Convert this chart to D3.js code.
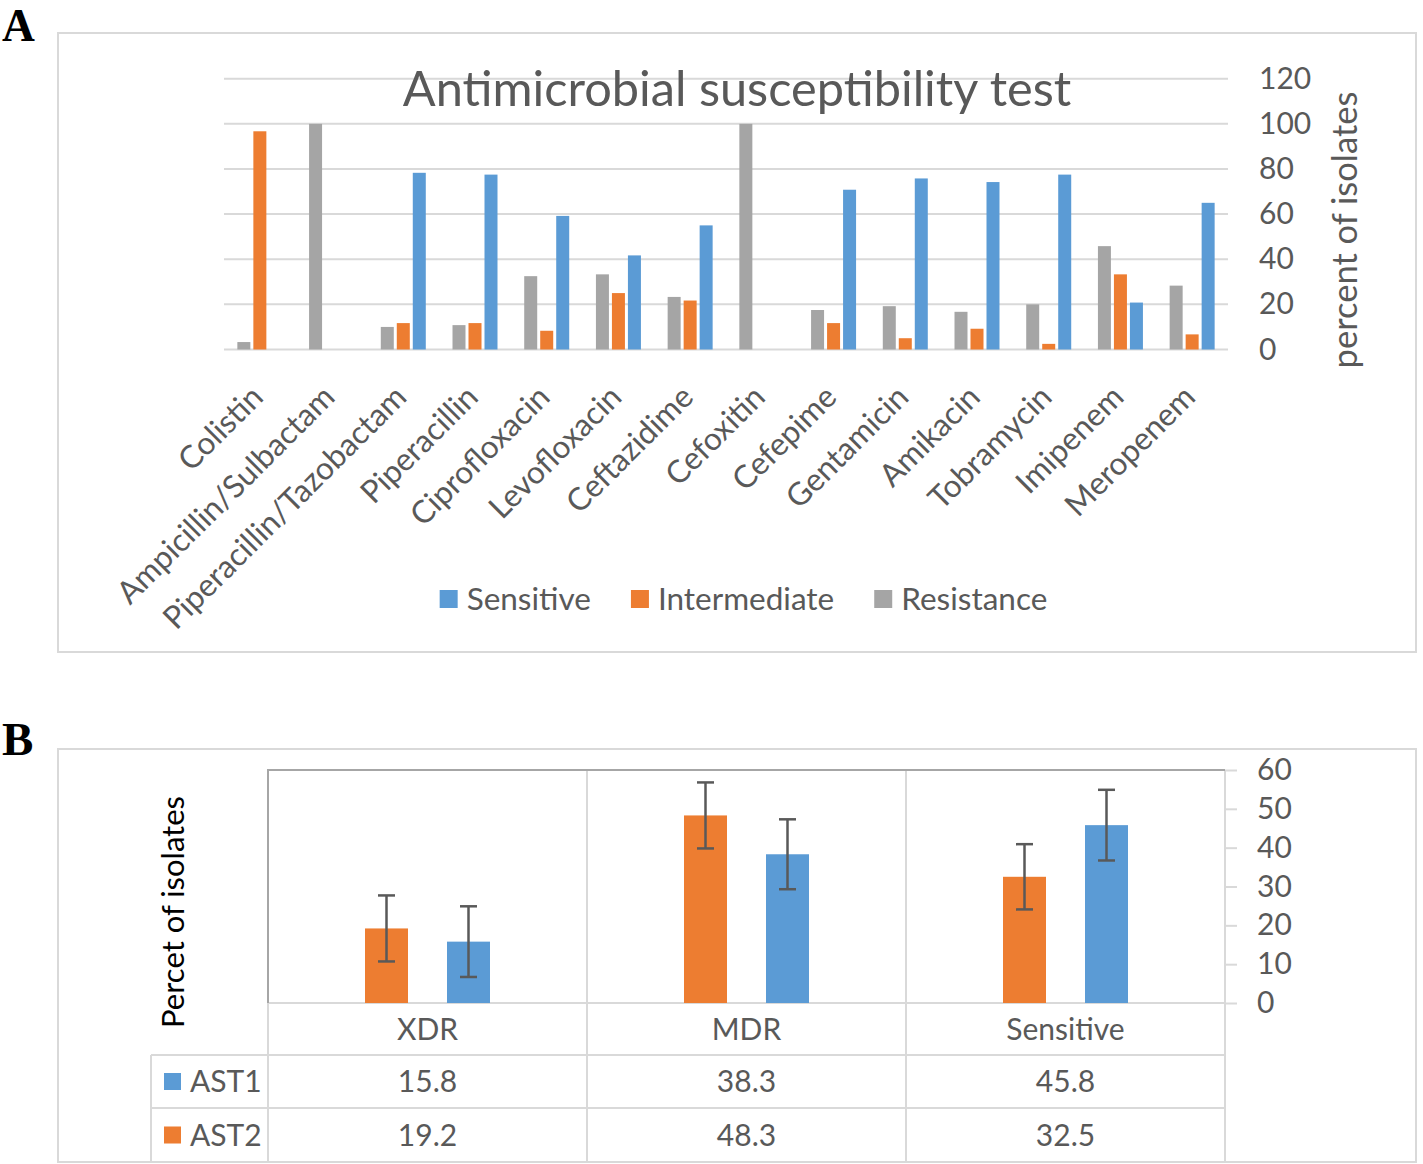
<!DOCTYPE html>
<html><head><meta charset="utf-8">
<script src="https://cdn.jsdelivr.net/npm/d3@7"></script>
<style>
body{margin:0;background:#fff}
svg{display:block}
text{font-family:Lato,"Open Sans",sans-serif}
</style>
</head><body>
<svg id="chart" width="1423" height="1164"></svg>
<script>
// ---------- Panel A data ----------
const categories = ["Colistin","Ampicillin/Sulbactam","Piperacillin/Tazobactam","Piperacillin","Ciprofloxacin","Levofloxacin","Ceftazidime","Cefoxitin","Cefepime","Gentamicin","Amikacin","Tobramycin","Imipenem","Meropenem"];
const legendA = ["Sensitive","Intermediate","Resistance"];
const barOrderA = ["Resistance","Intermediate","Sensitive"];
const sensitive    = [0, 0, 78.3, 77.5, 59.2, 41.7, 55.0, 0, 70.8, 75.8, 74.2, 77.5, 20.8, 65.0];
const intermediate = [96.7, 0, 11.7, 11.7, 8.3, 25.0, 21.7, 0, 11.7, 5.0, 9.2, 2.5, 33.3, 6.7];
const resistance   = [3.3, 100, 10.0, 10.8, 32.5, 33.3, 23.3, 100, 17.5, 19.2, 16.7, 20.0, 45.8, 28.3];
const ticksA = [0, 20, 40, 60, 80, 100, 120];

// ---------- Panel B data ----------
const categoriesB = ["XDR","MDR","Sensitive"];
const seriesB = ["AST1","AST2"];
const barOrderB = ["AST2","AST1"];
const ast1 = [15.8, 38.3, 45.8];
const ast2 = [19.2, 48.3, 32.5];
const ast1Err = [9.1, 9.0, 9.1];
const ast2Err = [8.5, 8.5, 8.4];
const ticksB = [0, 10, 20, 30, 40, 50, 60];

const colors = {Sensitive:"#5B9BD5", Intermediate:"#ED7D31", Resistance:"#A5A5A5", AST1:"#5B9BD5", AST2:"#ED7D31"};
const TXT = "#595959", GRID = "#D9D9D9";

const svg = d3.select("#chart");

// ============ PANEL A ============
const seriesValues = {Sensitive: sensitive, Intermediate: intermediate, Resistance: resistance};
svg.append("rect").attr("x",58).attr("y",33).attr("width",1358).attr("height",619)
  .attr("fill","none").attr("stroke",GRID).attr("stroke-width",2);
svg.append("text").attr("x",2).attr("y",40.5).text("A")
  .style("font-family","'Liberation Serif','Times New Roman',serif").style("font-weight","bold")
  .attr("font-size",45.5).attr("fill","#000");

const xA = d3.scaleBand().domain(categories).range([224,1228]).padding(0);
const yA = d3.scaleLinear().domain([0,120]).range([349.5,78.7]);
const xSubA = d3.scaleBand().domain(barOrderA).range([-22.5,22.5]).paddingInner(0.1875).paddingOuter(0);

// gridlines
svg.append("g").selectAll("line").data(ticksA).join("line")
  .attr("x1",224).attr("x2",1228).attr("y1",d=>yA(d)).attr("y2",d=>yA(d))
  .attr("stroke",GRID).attr("stroke-width",2);

// right axis labels
const axA = svg.append("g").attr("transform","translate(1228,0)")
  .call(d3.axisRight(yA).tickValues(ticksA).tickSize(0).tickPadding(31));
axA.select(".domain").remove();
axA.selectAll("text").attr("font-size",30).attr("fill",TXT).style("font-family","Lato,'Open Sans',sans-serif");

// bars
const gA = svg.append("g");
categories.forEach((c,i)=>{
  const cx = xA(c) + xA.bandwidth()/2;
  barOrderA.forEach(s=>{
    const v = seriesValues[s][i];
    if (v <= 0) return;
    gA.append("rect")
      .attr("x", cx + xSubA(s)).attr("width", xSubA.bandwidth())
      .attr("y", yA(v)).attr("height", yA(0)-yA(v))
      .attr("fill", colors[s]);
  });
});

// category labels
svg.append("g").selectAll("text").data(categories).join("text")
  .attr("transform",d=>`translate(${xA(d)+xA.bandwidth()/2-11},383) rotate(-45)`)
  .attr("text-anchor","end").attr("dy","0.72em")
  .attr("font-size",31.5).attr("fill",TXT).text(d=>d);

// title
svg.append("text").attr("x",737).attr("y",106).attr("text-anchor","middle")
  .attr("font-size",48.7).attr("fill",TXT).text("Antimicrobial susceptibility test");

// axis title
svg.append("text").attr("transform","translate(1357,230) rotate(-90)")
  .attr("text-anchor","middle").attr("font-size",34.5).attr("fill",TXT).text("percent of isolates");

// legend A
const legG = svg.append("g");
let lx = 0;
legendA.forEach(s=>{
  const g = legG.append("g").attr("transform",`translate(${lx},0)`);
  g.append("rect").attr("x",0).attr("y",-9).attr("width",18).attr("height",18).attr("fill",colors[s]);
  const t = g.append("text").attr("x",27).attr("y",0).attr("dy","0.35em")
    .attr("font-size",31.5).attr("fill",TXT).text(s);
  lx += 27 + t.node().getComputedTextLength() + 40;
});
const legW = lx - 40;
legG.attr("transform",`translate(${743.5 - legW/2},599)`);

// ============ PANEL B ============
svg.append("rect").attr("x",58).attr("y",749).attr("width",1358).attr("height",413)
  .attr("fill","none").attr("stroke",GRID).attr("stroke-width",2);
svg.append("text").attr("x",2).attr("y",755).text("B")
  .style("font-family","'Liberation Serif','Times New Roman',serif").style("font-weight","bold")
  .attr("font-size",47).attr("fill","#000");

const xB = d3.scaleBand().domain(categoriesB).range([268,1225]).padding(0);
const yB = d3.scaleLinear().domain([0,60]).range([1003,770]);
const xSubB = d3.scaleBand().domain(barOrderB).range([-62.5,62.5]).paddingInner(0.4756).paddingOuter(0);
const valsB = {AST1: ast1, AST2: ast2};
const errB = {AST1: ast1Err, AST2: ast2Err};

// table / grid lines
const tl = svg.append("g").attr("stroke",GRID).attr("stroke-width",2);
const colEdges = categoriesB.map(c=>xB(c)).concat([xB.range()[1]]);
colEdges.slice(1).forEach(x=>{
  tl.append("line").attr("x1",x).attr("x2",x).attr("y1",yB(60)).attr("y2",1162);
});
tl.append("line").attr("x1",268).attr("x2",268).attr("y1",yB(0)).attr("y2",1162);
tl.append("line").attr("x1",151).attr("x2",151).attr("y1",1055).attr("y2",1162);
tl.append("line").attr("x1",268).attr("x2",1225).attr("y1",yB(0)).attr("y2",yB(0));
tl.append("line").attr("x1",151).attr("x2",1225).attr("y1",1055).attr("y2",1055);
tl.append("line").attr("x1",151).attr("x2",1225).attr("y1",1108).attr("y2",1108);

// plot frame top + left (darker)
svg.append("path").attr("d",`M268,${yB(0)}V${yB(60)}H1225`).attr("fill","none")
  .attr("stroke","#A6A6A6").attr("stroke-width",2);

// right axis B with ticks
const axB = svg.append("g").attr("transform","translate(1225,0)")
  .call(d3.axisRight(yB).tickValues(ticksB).tickSize(12).tickPadding(20));
axB.select(".domain").remove();
axB.selectAll(".tick line").attr("stroke",GRID).attr("stroke-width",2);
axB.selectAll("text").attr("font-size",30).attr("fill",TXT).style("font-family","Lato,'Open Sans',sans-serif");

// bars + error bars
const gB = svg.append("g");
categoriesB.forEach((c,i)=>{
  const cx = xB(c) + xB.bandwidth()/2;
  barOrderB.forEach(s=>{
    const v = valsB[s][i], e = errB[s][i];
    const bx = cx + xSubB(s), bw = xSubB.bandwidth();
    gB.append("rect").attr("x",bx).attr("width",bw).attr("y",yB(v)).attr("height",yB(0)-yB(v))
      .attr("fill",colors[s]);
    const mx = bx + bw/2;
    const eg = gB.append("g").attr("stroke","#595959").attr("stroke-width",2.5);
    eg.append("line").attr("x1",mx).attr("x2",mx).attr("y1",yB(v+e)).attr("y2",yB(v-e));
    eg.append("line").attr("x1",mx-8.5).attr("x2",mx+8.5).attr("y1",yB(v+e)).attr("y2",yB(v+e));
    eg.append("line").attr("x1",mx-8.5).attr("x2",mx+8.5).attr("y1",yB(v-e)).attr("y2",yB(v-e));
  });
});

// category header row
svg.append("g").selectAll("text").data(categoriesB).join("text")
  .attr("x",d=>xB(d)+xB.bandwidth()/2).attr("y",1029).attr("dy","0.35em")
  .attr("text-anchor","middle").attr("font-size",30).attr("fill",TXT).text(d=>d);

// data rows
const rowY = {AST1: 1081.5, AST2: 1135};
seriesB.forEach(s=>{
  const y = rowY[s];
  svg.append("rect").attr("x",164).attr("y",y-8.5).attr("width",17).attr("height",17).attr("fill",colors[s]);
  svg.append("text").attr("x",190).attr("y",y).attr("dy","0.35em").attr("font-size",30).attr("fill",TXT).text(s);
  svg.append("g").selectAll("text").data(categoriesB).join("text")
    .attr("x",(d)=>xB(d)+xB.bandwidth()/2).attr("y",y).attr("dy","0.35em")
    .attr("text-anchor","middle").attr("font-size",30).attr("fill",TXT)
    .text((d,i)=>valsB[s][i].toFixed(1));
});

// y title B
svg.append("text").attr("transform","translate(184,912) rotate(-90)")
  .attr("text-anchor","middle").attr("font-size",31).attr("fill","#000").text("Percet of isolates");
</script>
</body></html>
